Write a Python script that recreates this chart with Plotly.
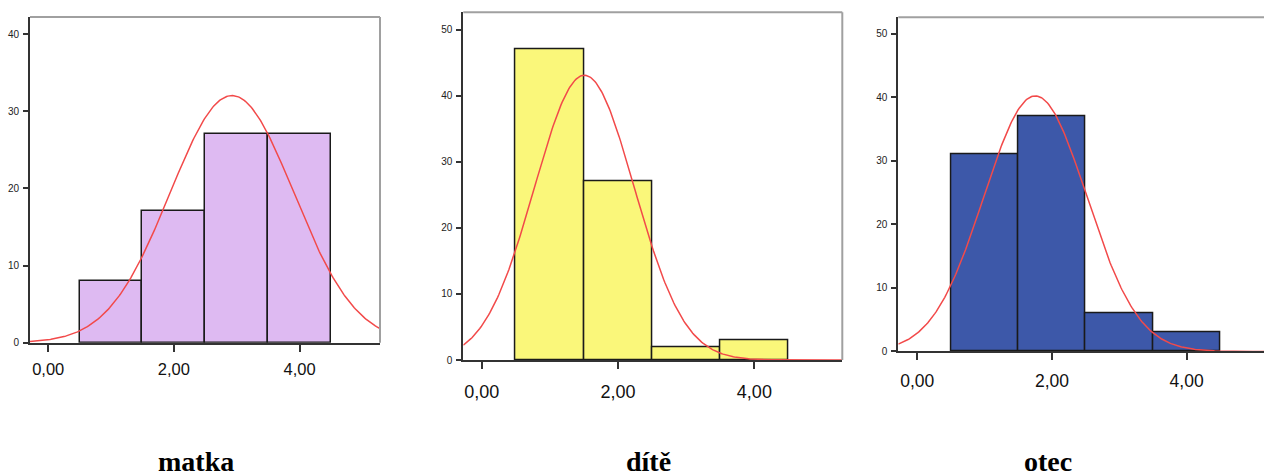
import numpy as np
import plotly.graph_objects as go

W, H_REF = 1264, 475
H = 482              # figure height (capture appears to be squeezed to 475)
SY = H / H_REF       # map reference pixel rows to figure rows

# ---- data ----
bin_centers = [1, 2, 3, 4]
matka_counts = [8, 17, 27, 27]
dite_counts = [47, 27, 2, 3]
otec_counts = [31, 37, 6, 3]
panel_titles = ["matka", "dítě", "otec"]
x_tickvals = [0, 2, 4]
x_ticktext = ["0,00", "2,00", "4,00"]
y_ticks_matka = [0, 10, 20, 30, 40]
y_ticks_other = [0, 10, 20, 30, 40, 50]

colors = ["#DEBAF2", "#FAF77A", "#3D58A9"]

# panel geometry in reference pixels: (left, right, top, bottom), axis ranges
panels = [
    dict(counts=matka_counts, px=(30, 380, 17, 342), xr=(-0.29, 5.28), yr=(0, 42.2),
         yt=y_ticks_matka, xfs=16.5, stand=3, title_x=195.5),
    dict(counts=dite_counts, px=(463.3, 842.3, 12.3, 359.3), xr=(-0.27, 5.29), yr=(0, 52.6),
         yt=y_ticks_other, xfs=18, stand=7, title_x=648),
    dict(counts=otec_counts, px=(898.3, 1264, 17.3, 350.7), xr=(-0.282, 5.15), yr=(0, 52.6),
         yt=y_ticks_other, xfs=17.5, stand=6, title_x=1048),
]

fig = go.Figure()
shapes = []
annotations = []

for i, p in enumerate(panels):
    n = i + 1
    xa = "x" if n == 1 else f"x{n}"
    ya = "y" if n == 1 else f"y{n}"
    counts = np.array(p["counts"], dtype=float)
    centers = np.array(bin_centers, dtype=float)
    N = counts.sum()
    mean = (counts * centers).sum() / N
    var = (counts * (centers - mean) ** 2).sum() / (N - 1)
    sd = np.sqrt(var)

    fig.add_trace(go.Bar(
        x=bin_centers, y=p["counts"], width=1.0,
        marker=dict(color=colors[i], line=dict(color="#1a1a1a", width=1.5)),
        xaxis=xa, yaxis=ya, showlegend=False, hoverinfo="skip",
    ))
    xs = np.linspace(p["xr"][0], p["xr"][1], 300)
    ys = N * 1.0 * np.exp(-0.5 * ((xs - mean) / sd) ** 2) / (sd * np.sqrt(2 * np.pi))
    fig.add_trace(go.Scatter(
        x=xs, y=ys, mode="lines", line=dict(color="#F24A4A", width=1.5),
        xaxis=xa, yaxis=ya, showlegend=False, hoverinfo="skip", cliponaxis=True,
    ))

    l, r, t, b = p["px"]
    xdom = [l / W, min(r / W, 1.0)]
    ydom = [(H - b * SY) / H, (H - t * SY) / H]
    fig.layout[f"xaxis{'' if n == 1 else n}"] = dict(
        domain=xdom, range=list(p["xr"]), anchor=ya,
        tickvals=x_tickvals, ticktext=x_ticktext,
        ticks="outside", ticklen=7, tickwidth=1.5, tickcolor="#333",
        showline=True, linecolor="#333", linewidth=2,
        showgrid=False, zeroline=False,
        tickfont=dict(family="Liberation Sans, Arial", size=p["xfs"], color="#111"),
        ticklabelstandoff=p["stand"], fixedrange=True,
    )
    fig.layout[f"yaxis{'' if n == 1 else n}"] = dict(
        domain=ydom, range=list(p["yr"]), anchor=xa,
        tickvals=p["yt"], ticks="outside", ticklen=5, tickwidth=1.5, tickcolor="#333",
        showline=True, linecolor="#333", linewidth=2,
        showgrid=False, zeroline=False,
        tickfont=dict(family="Liberation Sans, Arial", size=10, color="#222"),
        ticklabelstandoff=2, fixedrange=True,
    )
    # top and right frame (gray)
    shapes.append(dict(type="line", xref="paper", yref="paper",
                       x0=xdom[0], x1=xdom[1], y0=ydom[1], y1=ydom[1],
                       line=dict(color="#A0A0A0", width=2)))
    if r < W:
        shapes.append(dict(type="line", xref="paper", yref="paper",
                           x0=xdom[1], x1=xdom[1], y0=ydom[0], y1=ydom[1],
                           line=dict(color="#A0A0A0", width=2)))
    annotations.append(dict(
        text=f"<b>{panel_titles[i]}</b>", xref="paper", yref="paper",
        x=p["title_x"] / W, y=(H - 461 * SY) / H, xanchor="center", yanchor="middle",
        showarrow=False, font=dict(family="Liberation Serif, Times New Roman", size=28, color="#000"),
    ))

fig.update_layout(
    width=W, height=H, margin=dict(l=0, r=0, t=0, b=0),
    paper_bgcolor="white", plot_bgcolor="white",
    shapes=shapes, annotations=annotations, bargap=0,
)
fig.write_html("out.html", config={"displayModeBar": False},
               post_script="document.body.style.margin='0';")
